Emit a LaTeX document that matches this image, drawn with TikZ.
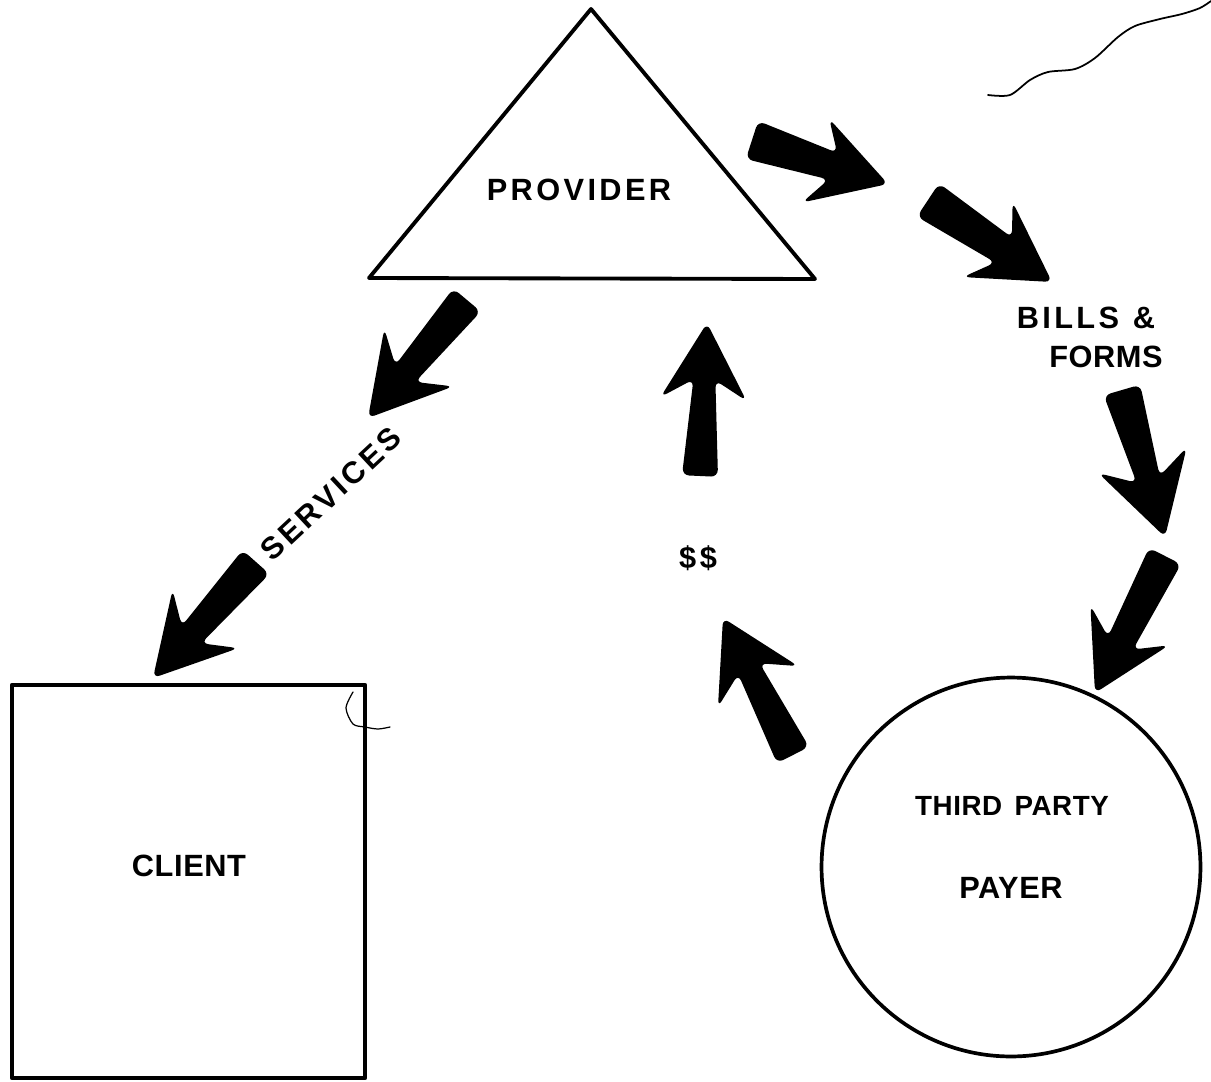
\documentclass[tikz,border=0pt]{standalone}
\usepackage{fontspec}
\setmainfont{Liberation Sans}
\newfontfamily\lblfont{Liberation Sans}[LetterSpace=2]
\newfontfamily\widefont{Liberation Sans}[LetterSpace=11]
\usetikzlibrary{calc}
\def\pxu{0.569pt}
\tikzset{
  outline/.style={draw=black, line width=2.2pt, line join=round},
  lbl/.style={font=\lblfont\bfseries\fontsize{17.5}{20}\selectfont, inner sep=0pt},
  widelbl/.style={font=\widefont\bfseries\fontsize{17.5}{20}\selectfont, inner sep=0pt},
  arrowfill/.style={fill=black, rounded corners=4pt},
  scanline/.style={draw=black, line width=1pt, line cap=round}
}
% #1 tail, #2 tip, #3 tail half width, #4 neck half width, #5 notch distance, #6 barb distance, #7 barb half width
\newcommand\blockarrow[7]{%
  \coordinate (ba-n) at ($(#2)!{#5*\pxu}!(#1)$);
  \coordinate (ba-b) at ($(#2)!{#6*\pxu}!(#1)$);
  \fill[arrowfill]
    ($(#1)!{#3*\pxu}!90:(#2)$) --
    ($(ba-n)!{#4*\pxu}!90:(#2)$) --
    ($(ba-b)!{#7*\pxu}!90:(#2)$) --
    (#2) --
    ($(ba-b)!{#7*\pxu}!-90:(#2)$) --
    ($(ba-n)!{#4*\pxu}!-90:(#2)$) --
    ($(#1)!{#3*\pxu}!-90:(#2)$) -- cycle;
}
\begin{document}
\begin{tikzpicture}[x=0.02cm, y=-0.02cm]
\useasboundingbox (0,0) rectangle (1211,1082);

% provider triangle
\coordinate (tA) at (591,9);
\coordinate (tL) at (369,278);
\coordinate (tR) at (815,279);
\draw[outline] (tA) -- (tL) -- (tR) -- cycle;
\node[widelbl] (provider) at (579,190) {PROVIDER};

% client rectangle
\coordinate (cTL) at (12,685);
\coordinate (cBR) at (365,1078);
\draw[outline, line width=2.5pt] (cTL) rectangle (cBR);
\node[lbl] (client) at (189,866) {CLIENT};

% third party payer circle
\node[circle, draw=black, line width=2.1pt, minimum size=7.58cm, inner sep=0pt] (payer) at (1011,867) {};
\node[lbl, font=\lblfont\bfseries\fontsize{15.8}{20}\selectfont] (third) at (1012,806) {THIRD\hspace{0.15em} PARTY};
\node[lbl] (payerlbl) at (1011,888) {PAYER};

% labels
\node[widelbl] (bills) at (1086,318) {BILLS\hspace{0.45em}\&};
\node[lbl] (forms) at (1106,357) {FORMS};
\node[widelbl] (money) at (698,558) {\$\hspace{0.12em}\$};
\node[widelbl, rotate=43] (services) at (331,494) {SERVICES};

% arrow endpoints
\coordinate (a1t) at (752,140); \coordinate (a1h) at (888,184);
\coordinate (a2t) at (928,200); \coordinate (a2h) at (1052,282);
\coordinate (a3t) at (1122,390); \coordinate (a3h) at (1165,537);
\coordinate (a4t) at (1165,556); \coordinate (a4h) at (1095,693);
\coordinate (a5t) at (467,300); \coordinate (a5h) at (368,418);
\coordinate (a6t) at (256,562); \coordinate (a6h) at (153,678);
\coordinate (a7t) at (700,476); \coordinate (a7h) at (707,323);
\coordinate (a8t) at (793,755); \coordinate (a8h) at (723,618);

\blockarrow{a1t}{a1h}{20}{14}{58}{76}{44}
\blockarrow{a2t}{a2h}{20}{15}{58}{77}{45}
\blockarrow{a3t}{a3h}{19}{12}{60}{80}{46}
\blockarrow{a4t}{a4h}{18}{14}{56}{76}{44}
\blockarrow{a5t}{a5h}{18}{13}{58}{79}{45}
\blockarrow{a6t}{a6h}{18}{13}{58}{79}{44}
\blockarrow{a7t}{a7h}{18}{11}{57}{76}{43}
\blockarrow{a8t}{a8h}{18}{12}{57}{77}{45}

% stray scan marks
\draw[scanline] plot[smooth] coordinates {(988,95) (1010,95) (1030,80) (1048,72) (1075,69) (1095,58) (1118,37) (1135,26) (1160,19) (1182,14) (1200,8) (1211,1)};
\draw[scanline, line width=0.7pt] plot[smooth] coordinates {(353,692) (346,708) (353,724) (365,727) (378,729) (390,727)};
\end{tikzpicture}
\end{document}
